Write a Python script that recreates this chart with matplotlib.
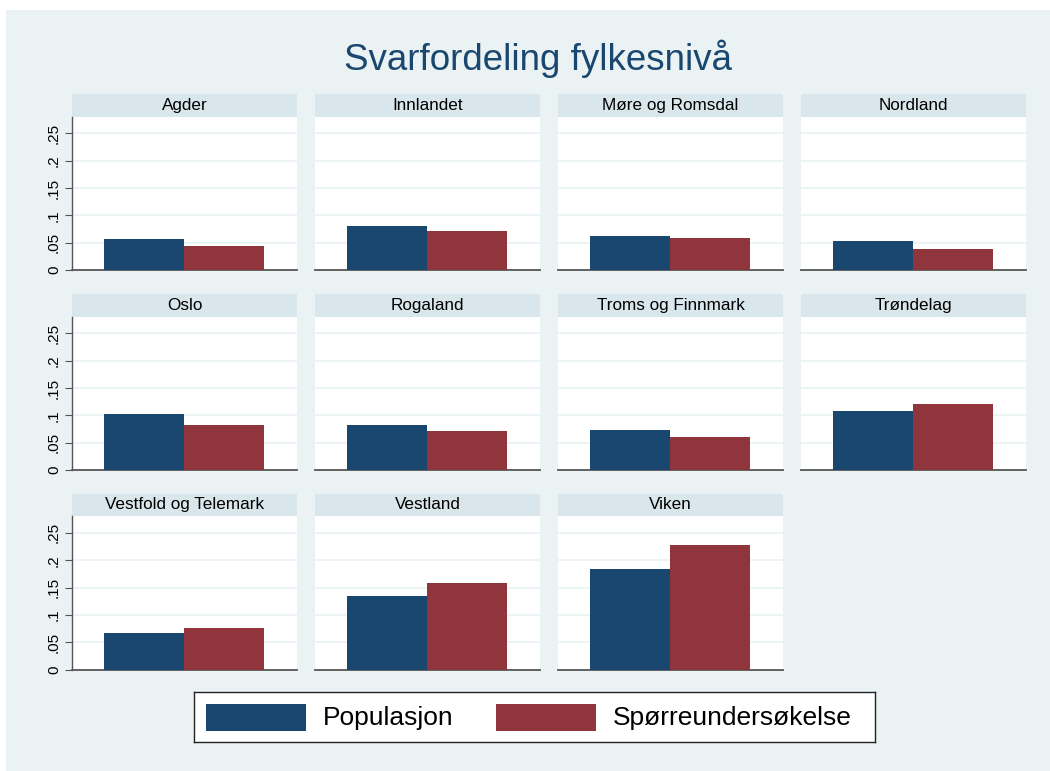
import matplotlib
matplotlib.use("Agg")
from matplotlib import pyplot as plt
from matplotlib.patches import Rectangle

plt.rcParams['font.family'] = ['Liberation Sans', 'DejaVu Sans']

fylker = ['Agder', 'Innlandet', 'Møre og Romsdal', 'Nordland',
          'Oslo', 'Rogaland', 'Troms og Finnmark', 'Trøndelag',
          'Vestfold og Telemark', 'Vestland', 'Viken']
populasjon = [0.057, 0.080, 0.062, 0.053,
              0.102, 0.082, 0.073, 0.108,
              0.066, 0.134, 0.184]
undersokelse = [0.043, 0.071, 0.059, 0.038,
                0.082, 0.071, 0.060, 0.120,
                0.076, 0.158, 0.228]
serier = ['Populasjon', 'Spørreundersøkelse']
yticks = [0, 0.05, 0.1, 0.15, 0.2, 0.25]
yticklabels = ['0', '.05', '.1', '.15', '.2', '.25']

NAVY = '#1a476f'
MAROON = '#90353b'
BG = '#eaf2f3'
STRIP = '#d9e6eb'

W, H = 1050, 771
fig = plt.figure(figsize=(W / 100, H / 100), dpi=100)
fig.patch.set_facecolor('white')
# grafomraade (hvit kant oppe og til venstre)
fig.patches.append(Rectangle((6 / W, 0), 1, 1 - 10 / H,
                             transform=fig.transFigure, facecolor=BG,
                             edgecolor='none', zorder=-10))

fig.text(538 / W, 1 - 59 / H, 'Svarfordeling fylkesnivå', ha='center',
         va='center', fontsize=26.5, color='#1a476f')

col_x = [72, 315, 558, 801]
row_bottom = [270, 470, 669.5]
pw, ph = 225, 153.3
strip_h = 22.5

for i, navn in enumerate(fylker):
    r, c = divmod(i, 4)
    ax = fig.add_axes([col_x[c] / W, 1 - row_bottom[r] / H, pw / W, ph / H])
    ax.set_facecolor('white')
    ax.bar([0], [populasjon[i]], width=1, color=NAVY, zorder=3)
    ax.bar([1], [undersokelse[i]], width=1, color=MAROON, zorder=3)
    ax.set_xlim(-0.9, 1.91)
    ax.set_ylim(0, 0.2805)
    ax.set_xticks([])
    ax.set_yticks(yticks)
    ax.grid(axis='y', color=BG, linewidth=1.2, zorder=0)
    for s in ['top', 'right']:
        ax.spines[s].set_visible(False)
    ax.spines['bottom'].set_color('#555555')
    ax.spines['bottom'].set_linewidth(1.3)
    if c == 0:
        ax.spines['left'].set_color('#555555')
        ax.spines['left'].set_linewidth(1.0)
        ax.set_yticklabels(yticklabels, rotation=90, va='center', fontsize=11)
        ax.tick_params(axis='y', length=5, color='#555555', pad=3)
    else:
        ax.spines['left'].set_visible(False)
        ax.tick_params(axis='y', length=0, labelleft=False)
    ax.add_patch(Rectangle((0, 1), 1, strip_h / ph, transform=ax.transAxes,
                           facecolor=STRIP, edgecolor='none', clip_on=False))
    ax.text(0.5, 1 + strip_h / ph / 2, navn, transform=ax.transAxes,
            ha='center', va='center', fontsize=12.3, color='black')

# legende
lx0, ly0, lx1, ly1 = 194, 692.3, 875, 742.3
lax = fig.add_axes([lx0 / W, 1 - ly1 / H, (lx1 - lx0) / W, (ly1 - ly0) / H])
lax.set_xlim(lx0, lx1)
lax.set_ylim(ly1, ly0)
lax.set_xticks([])
lax.set_yticks([])
for s in lax.spines.values():
    s.set_color('#222222')
    s.set_linewidth(1.0)
for farge, tekst, px, tx in [(NAVY, serier[0], 205.7, 322.5),
                             (MAROON, serier[1], 496, 612.5)]:
    lax.add_patch(Rectangle((px, 704), 100.3, 26.7, facecolor=farge,
                            edgecolor='none'))
    lax.text(tx, 718, tekst, ha='left', va='center', fontsize=19)

fig.savefig('out.png', dpi=100, facecolor=fig.get_facecolor())
